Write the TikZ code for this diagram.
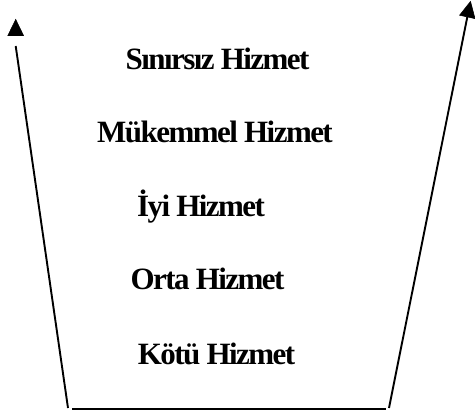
\documentclass[tikz,border=0pt]{standalone}
\usepackage{fontspec}
\setmainfont{Liberation Serif}
\newfontfamily\tightfont[LetterSpace=-5]{Liberation Serif}
\tikzset{
  level/.style={anchor=base, inner sep=0pt, font=\tightfont\fontsize{31}{33}\selectfont\bfseries},
  frame/.style={line width=1.9pt},
  head/.style={fill=black, draw=black, line width=0.6pt, line join=miter}
}
\begin{document}
\begin{tikzpicture}[x=1pt,y=1pt]
\useasboundingbox (0,0) rectangle (475,-410);
% left side with arrowhead
\coordinate (la) at (15.7,-46);
\coordinate (bl) at (68,-408);
\coordinate (ltip) at (15.7,-19.5);
\coordinate (lc1) at (7.9,-35.5);
\coordinate (lc2) at (23.5,-35.5);
% bottom
\coordinate (b1) at (72,-408.8);
\coordinate (b2) at (386,-408.8);
% right side with arrowhead
\coordinate (br) at (389,-408);
\coordinate (ra) at (467.3,-17);
\coordinate (rtip) at (470.5,-1.5);
\coordinate (rc1) at (459.6,-15.2);
\coordinate (rc2) at (475,-18.6);
\draw[frame] (bl) -- (la);
\draw[frame] (b1) -- (b2);
\draw[frame] (br) -- (ra);
\filldraw[head] (ltip) -- (lc1) -- (lc2) -- cycle;
\filldraw[head] (rtip) -- (rc1) -- (rc2) -- cycle;
\node[level] (s1) at (217.5,-69) {Sınırsız Hizmet};
\node[level] (s2) at (215,-142) {Mükemmel Hizmet};
\node[level] (s3) at (201,-216) {İyi Hizmet};
\node[level] (s4) at (207.5,-289) {Orta Hizmet};
\node[level] (s5) at (216.5,-364) {Kötü Hizmet};
\end{tikzpicture}
\end{document}
